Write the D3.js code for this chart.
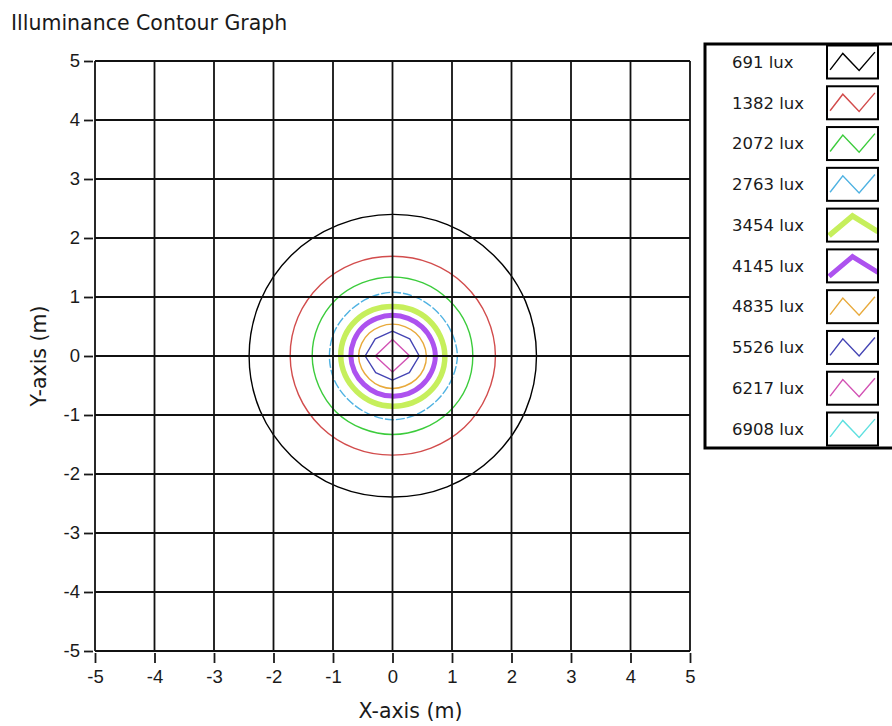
<!DOCTYPE html>
<html lang="en">
<head>
  <meta charset="UTF-8">
  <title>Illuminance Contour Graph</title>
  <script src="https://d3js.org/d3.v7.min.js"></script>
  <style>
    body { margin: 0; background: #fff; }
    svg { display: block; font-family: "DejaVu Sans", sans-serif; }
    .grid line { stroke: #111; stroke-width: 1.8px; }
    .axis text { font-size: 18.5px; fill: #1a1a1a; }
    .axis line { stroke: #1a1a1a; stroke-width: 1.8px; }
    .contour { fill: none; }
    .legend-label { font-size: 16.5px; fill: #1a1a1a; }
  </style>
</head>
<body>
  <script>
    // contour levels and their colours
    const levels = ["691 lux", "1382 lux", "2072 lux", "2763 lux", "3454 lux",
                    "4145 lux", "4835 lux", "5526 lux", "6217 lux", "6908 lux"];
    const colors = ["#000000", "#d24c4c", "#3ccc3c", "#4fb2e2", "#c6ef5c",
                    "#ad52ef", "#e8aa3c", "#4444b4", "#d252b4", "#5fe0e0"];
    const widths = [1.4, 1.4, 1.4, 1.4, 5.5, 5, 1.4, 1.4, 1.4, 1.4];

    // contour radius (m), counter-clockwise from east
    // 16 directions for the round ones, 8 for 5526 lux, 4 (diamond) for 6217 lux;
    // 6908 lux is not visible in the plot
    const radii = [
      [2.42, 2.42, 2.41, 2.41, 2.40, 2.40, 2.41, 2.41, 2.41, 2.41, 2.40, 2.40, 2.39, 2.40, 2.41, 2.42],
      [1.73, 1.72, 1.71, 1.70, 1.69, 1.70, 1.71, 1.72, 1.72, 1.71, 1.70, 1.69, 1.68, 1.69, 1.71, 1.72],
      [1.35, 1.35, 1.34, 1.34, 1.34, 1.34, 1.35, 1.35, 1.35, 1.34, 1.34, 1.33, 1.33, 1.33, 1.34, 1.35],
      [1.09, 1.07, 1.06, 1.07, 1.08, 1.06, 1.05, 1.06, 1.06, 1.06, 1.05, 1.06, 1.08, 1.07, 1.06, 1.07],
      [0.88, 0.87, 0.86, 0.85, 0.84, 0.85, 0.86, 0.87, 0.87, 0.86, 0.85, 0.85, 0.85, 0.86, 0.87, 0.88],
      [0.72, 0.71, 0.70, 0.69, 0.69, 0.69, 0.70, 0.70, 0.70, 0.69, 0.68, 0.68, 0.68, 0.69, 0.70, 0.71],
      [0.57, 0.56, 0.55, 0.54, 0.54, 0.54, 0.55, 0.56, 0.57, 0.56, 0.55, 0.55, 0.55, 0.55, 0.56, 0.57],
      [0.45, 0.41, 0.42, 0.41, 0.46, 0.40, 0.41, 0.40],
      [0.29, 0.28, 0.29, 0.27],
      []
    ];
    const dashed = [false, false, false, true, false, false, false, false, false, false];

    const xTicks = [-5, -4, -3, -2, -1, 0, 1, 2, 3, 4, 5];
    const yTicks = [-5, -4, -3, -2, -1, 0, 1, 2, 3, 4, 5];

    const width = 892, height = 726;
    const plot = {left: 95, right: 690, top: 61, bottom: 651};

    const svg = d3.select("body").append("svg")
      .attr("width", width)
      .attr("height", height);

    const x = d3.scaleLinear().domain([-5, 5]).range([plot.left, plot.right]);
    const y = d3.scaleLinear().domain([-5, 5]).range([plot.bottom, plot.top]);

    // title
    svg.append("text")
      .attr("x", 11)
      .attr("y", 30)
      .style("font-size", "20.5px")
      .attr("fill", "#1a1a1a")
      .text("Illuminance Contour Graph");

    // contours (drawn under the grid)
    const line = d3.line().x(d => x(d[0])).y(d => y(d[1]));
    radii.forEach((rs, i) => {
      if (!rs.length) return;
      const pts = rs.map((r, k) => {
        const a = k * 2 * Math.PI / rs.length;
        return [r * Math.cos(a), r * Math.sin(a)];
      });
      line.curve(rs.length <= 8 ? d3.curveLinearClosed : d3.curveCatmullRomClosed.alpha(0.5));
      svg.append("path")
        .datum(pts)
        .attr("class", "contour")
        .attr("d", line)
        .attr("stroke", colors[i])
        .attr("stroke-width", widths[i])
        .attr("stroke-linejoin", "round")
        .attr("stroke-dasharray", dashed[i] ? "9,2" : null);
    });

    // grid
    const grid = svg.append("g").attr("class", "grid");
    grid.selectAll(".gx").data(xTicks).join("line")
      .attr("class", "gx")
      .attr("x1", d => x(d)).attr("x2", d => x(d))
      .attr("y1", plot.top).attr("y2", plot.bottom);
    grid.selectAll(".gy").data(yTicks).join("line")
      .attr("class", "gy")
      .attr("x1", plot.left).attr("x2", plot.right)
      .attr("y1", d => y(d)).attr("y2", d => y(d));

    // axes
    const xAxis = svg.append("g")
      .attr("class", "axis")
      .attr("transform", `translate(0,${plot.bottom + 2})`)
      .call(d3.axisBottom(x).tickValues(xTicks).tickSize(10).tickPadding(7).tickFormat(d => String(d)));
    xAxis.select(".domain").remove();

    const yAxis = svg.append("g")
      .attr("class", "axis")
      .attr("transform", `translate(${plot.left - 2},0)`)
      .call(d3.axisLeft(y).tickValues(yTicks).tickSize(9).tickPadding(4).tickFormat(d => String(d)));
    yAxis.select(".domain").remove();

    svg.append("text")
      .attr("x", (plot.left + plot.right) / 2 + 18)
      .attr("y", 718)
      .attr("text-anchor", "middle")
      .style("font-size", "20.5px")
      .attr("fill", "#1a1a1a")
      .text("X-axis (m)");

    svg.append("text")
      .attr("transform", `translate(46,${(plot.top + plot.bottom) / 2}) rotate(-90)`)
      .attr("text-anchor", "middle")
      .style("font-size", "20.5px")
      .attr("fill", "#1a1a1a")
      .text("Y-axis (m)");

    // legend
    const legend = svg.append("g");
    legend.append("rect")
      .attr("x", 705).attr("y", 44)
      .attr("width", 200).attr("height", 404)
      .attr("fill", "#fff")
      .attr("stroke", "#000")
      .attr("stroke-width", 3);

    const rowY = d3.scaleLinear().domain([0, 9]).range([62, 429]);
    const swW = 51, swH = 33;
    const thinZig = [[0.06, 0.74], [0.31, 0.24], [0.63, 0.76], [0.94, 0.2]];
    const thickZig = [[0.04, 0.82], [0.5, 0.22], [1.0, 0.7]];
    const sx = d3.scaleLinear().domain([0, 1]).range([0, swW]);
    const sy = d3.scaleLinear().domain([0, 1]).range([0, swH]);
    const zig = d3.line().x(d => sx(d[0])).y(d => sy(d[1]));

    levels.forEach((lab, i) => {
      const cy = rowY(i);
      legend.append("text")
        .attr("class", "legend-label")
        .attr("x", 732)
        .attr("y", cy)
        .attr("dy", "0.35em")
        .text(lab);

      const g = legend.append("g")
        .attr("transform", `translate(827,${cy - swH / 2})`);
      g.append("clipPath").attr("id", "sw" + i)
        .append("rect").attr("width", swW).attr("height", swH);
      g.append("path")
        .datum(widths[i] > 2 ? thickZig : thinZig)
        .attr("d", zig)
        .attr("fill", "none")
        .attr("stroke", colors[i])
        .attr("stroke-width", widths[i])
        .attr("clip-path", `url(#sw${i})`);
      g.append("rect")
        .attr("width", swW).attr("height", swH)
        .attr("fill", "none")
        .attr("stroke", "#000")
        .attr("stroke-width", 2);
    });
  </script>
</body>
</html>
